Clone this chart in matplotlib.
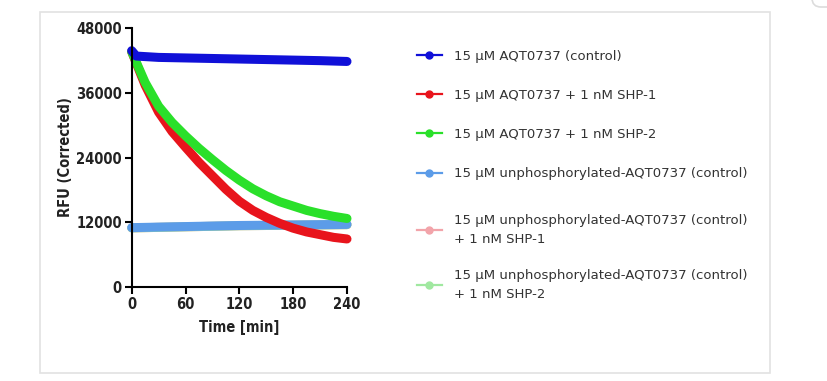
import matplotlib.pyplot as plt
import numpy as np
from matplotlib.lines import Line2D
from matplotlib.patches import Rectangle, FancyBboxPatch

# time points (min)
t_ctrl = [0, 5, 30, 60, 90, 120, 150, 180, 210, 240]
rfu_ctrl = [43800, 42800, 42550, 42450, 42350, 42250, 42150, 42050, 41950, 41800]

t_kin = [0, 15, 30, 45, 60, 75, 90, 105, 120, 135, 150, 165, 180, 195, 210, 225, 240]
rfu_shp1 = [43600, 37400, 32400, 28800, 25900, 23100, 20600, 18100, 15900, 14200, 12900, 11800, 10900, 10200, 9700, 9200, 8900]
rfu_shp2 = [43600, 37900, 33500, 30500, 28000, 25700, 23600, 21600, 19800, 18200, 16900, 15800, 15000, 14200, 13600, 13100, 12700]

t_unphos = [0, 60, 120, 180, 240]
rfu_unphos = [11000, 11200, 11400, 11500, 11600]
rfu_unphos_shp1 = [10950, 11150, 11350, 11450, 11550]
rfu_unphos_shp2 = [10950, 11150, 11350, 11450, 11550]

labels = ['15 µM AQT0737 (control)',
          '15 µM AQT0737 + 1 nM SHP-1',
          '15 µM AQT0737 + 1 nM SHP-2',
          '15 µM unphosphorylated-AQT0737 (control)',
          '15 µM unphosphorylated-AQT0737 (control)\n+ 1 nM SHP-1',
          '15 µM unphosphorylated-AQT0737 (control)\n+ 1 nM SHP-2']
colors = ['#1010d8', '#e8141c', '#2ae02a', '#5c9ce8', '#f2a4aa', '#a0e8a0']

fig = plt.figure(figsize=(8.27, 3.81), dpi=100)

# screenshot frame
fig.patches.append(Rectangle((40 / 827, 8 / 381), 730 / 827, 361 / 381, transform=fig.transFigure,
                             fill=False, ec='#e2e2e2', lw=1.2))
fig.patches.append(FancyBboxPatch((812, 374), 40, 30, boxstyle='round,pad=0,rounding_size=9',
                                  transform=None, fc='white', ec='#dcdcdc', lw=1.2))

ax = fig.add_axes([131.7 / 827, 94 / 381, 215.3 / 827, 259 / 381])

lw = 6.5
ax.plot(t_unphos, rfu_unphos_shp1, color=colors[4], lw=lw, solid_capstyle='round', clip_on=False)
ax.plot(t_unphos, rfu_unphos_shp2, color=colors[5], lw=lw, solid_capstyle='round', clip_on=False)
ax.plot(t_unphos, rfu_unphos, color=colors[3], lw=lw, solid_capstyle='round', clip_on=False)
ax.plot(t_kin, rfu_shp1, color=colors[1], lw=lw, solid_capstyle='round', clip_on=False)
ax.plot(t_kin, rfu_shp2, color=colors[2], lw=lw, solid_capstyle='round', clip_on=False)
ax.plot(t_ctrl, rfu_ctrl, color=colors[0], lw=lw, solid_capstyle='round', clip_on=False)

ax.set_xlim(0, 240)
ax.set_ylim(0, 48000)
ax.set_xticks([0, 60, 120, 180, 240])
ax.set_yticks([0, 12000, 24000, 36000, 48000])
for s in ['top', 'right']:
    ax.spines[s].set_visible(False)
for s in ['left', 'bottom']:
    ax.spines[s].set_linewidth(1.5)
ax.tick_params(direction='out', length=5, width=1.5, pad=2)

tick_font = dict(family='DejaVu Sans', stretch='condensed', weight='bold', size=10.5)
for lab in ax.get_xticklabels() + ax.get_yticklabels():
    lab.set_fontproperties(tick_font)
    lab.set_color('#222222')
ax.set_xlabel('Time [min]', fontdict=tick_font, color='#222222', labelpad=6)
ax.set_ylabel('RFU (Corrected)', fontdict=tick_font, color='#222222', labelpad=2)

handles = [Line2D([], [], color=c, lw=1.6, marker='o', markersize=5) for c in colors]
leg_opts = dict(loc='upper left', frameon=False, fontsize=9.5, handlelength=1.9,
                handletextpad=0.9, borderpad=0)
leg1 = fig.legend(handles[:4], labels[:4], bbox_to_anchor=(410 / 827, 1 - 43 / 381),
                  labelspacing=1.99, **leg_opts)
leg2 = fig.legend(handles[4:], labels[4:], bbox_to_anchor=(410 / 827, 1 - 207 / 381),
                  labelspacing=1.75, **leg_opts)
for leg in (leg1, leg2):
    for txt in leg.get_texts():
        txt.set_linespacing(1.6)
        txt.set_color('#333333')

fig.savefig('out.png', dpi=100)
